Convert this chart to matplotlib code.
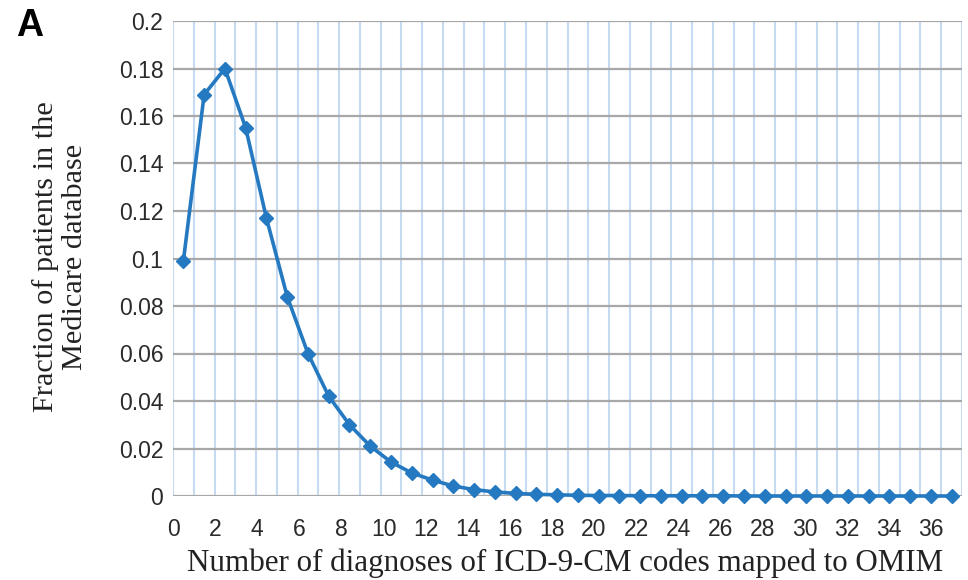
import matplotlib
matplotlib.use("Agg")
import matplotlib.pyplot as plt
import numpy as np

# Data
categories = list(range(38))
fractions = [0.099, 0.169, 0.180, 0.155, 0.117, 0.084, 0.060, 0.042, 0.030, 0.021,
             0.0143, 0.0097, 0.0067, 0.0042, 0.0027, 0.0017, 0.0011, 0.0007, 0.0005, 0.0003,
             0.0002, 0.0002, 0.0001, 0.0001, 0.0001, 0.0001, 0.0001, 0.0, 0.0, 0.0,
             0.0, 0.0, 0.0, 0.0, 0.0, 0.0, 0.0, 0.0]
xtick_labels = [str(k) for k in range(0, 37, 2)]
ytick_values = [0, 0.02, 0.04, 0.06, 0.08, 0.1, 0.12, 0.14, 0.16, 0.18, 0.2]
ytick_labels = ["0", "0.02", "0.04", "0.06", "0.08", "0.1", "0.12", "0.14", "0.16", "0.18", "0.2"]

blue = "#2479c0"
fig = plt.figure(figsize=(9.68, 5.8), dpi=100)
ax = fig.add_axes([173/968, 84/580, (962-173)/968, (496-21)/580])

x = np.array(categories) + 0.5
ax.plot(x, fractions, color=blue, lw=2.6, marker="D", markersize=7.5,
        markerfacecolor=blue, markeredgecolor=blue, zorder=5, clip_on=False)

ax.set_xlim(0, len(categories))
ax.set_ylim(0, 0.2)

# gridlines
for k in range(len(categories) + 1):
    ax.axvline(k, color="#c6daf2", lw=1.5, zorder=1)
for v in ytick_values:
    ax.axhline(v, color="#a8a8a8", lw=1.6, zorder=2)

for s in ax.spines.values():
    s.set_visible(False)

ax.set_yticks(ytick_values)
ax.set_yticklabels(ytick_labels, fontfamily="Liberation Sans", fontsize=16.5, color="#2a2a2a")
xt = [int(l) * 36.5 / 36 for l in xtick_labels]
ax.set_xticks(xt)
ax.set_xticklabels(xtick_labels, fontfamily="Liberation Sans", fontsize=16.5, color="#2a2a2a")
ax.tick_params(axis="both", length=0)
ax.tick_params(axis="y", pad=7)
ax.tick_params(axis="x", pad=16)

fig.text(565/968, 1 - 563/580, "Number of diagnoses of ICD-9-CM codes mapped to OMIM",
         ha="center", va="center", fontfamily="Liberation Serif", fontsize=22.3, color="#222222")
fig.text(60/968, 1 - 257/580, "Fraction of patients in the\nMedicare database",
         ha="center", va="center", rotation=90, fontfamily="Liberation Serif", fontsize=21.8,
         color="#222222", linespacing=1.15)
fig.text(16/968, 1 - 26/580, "A", ha="left", va="center", fontfamily="Liberation Sans",
         fontweight="bold", fontsize=27, color="black")

fig.savefig("out.png", dpi=100)
